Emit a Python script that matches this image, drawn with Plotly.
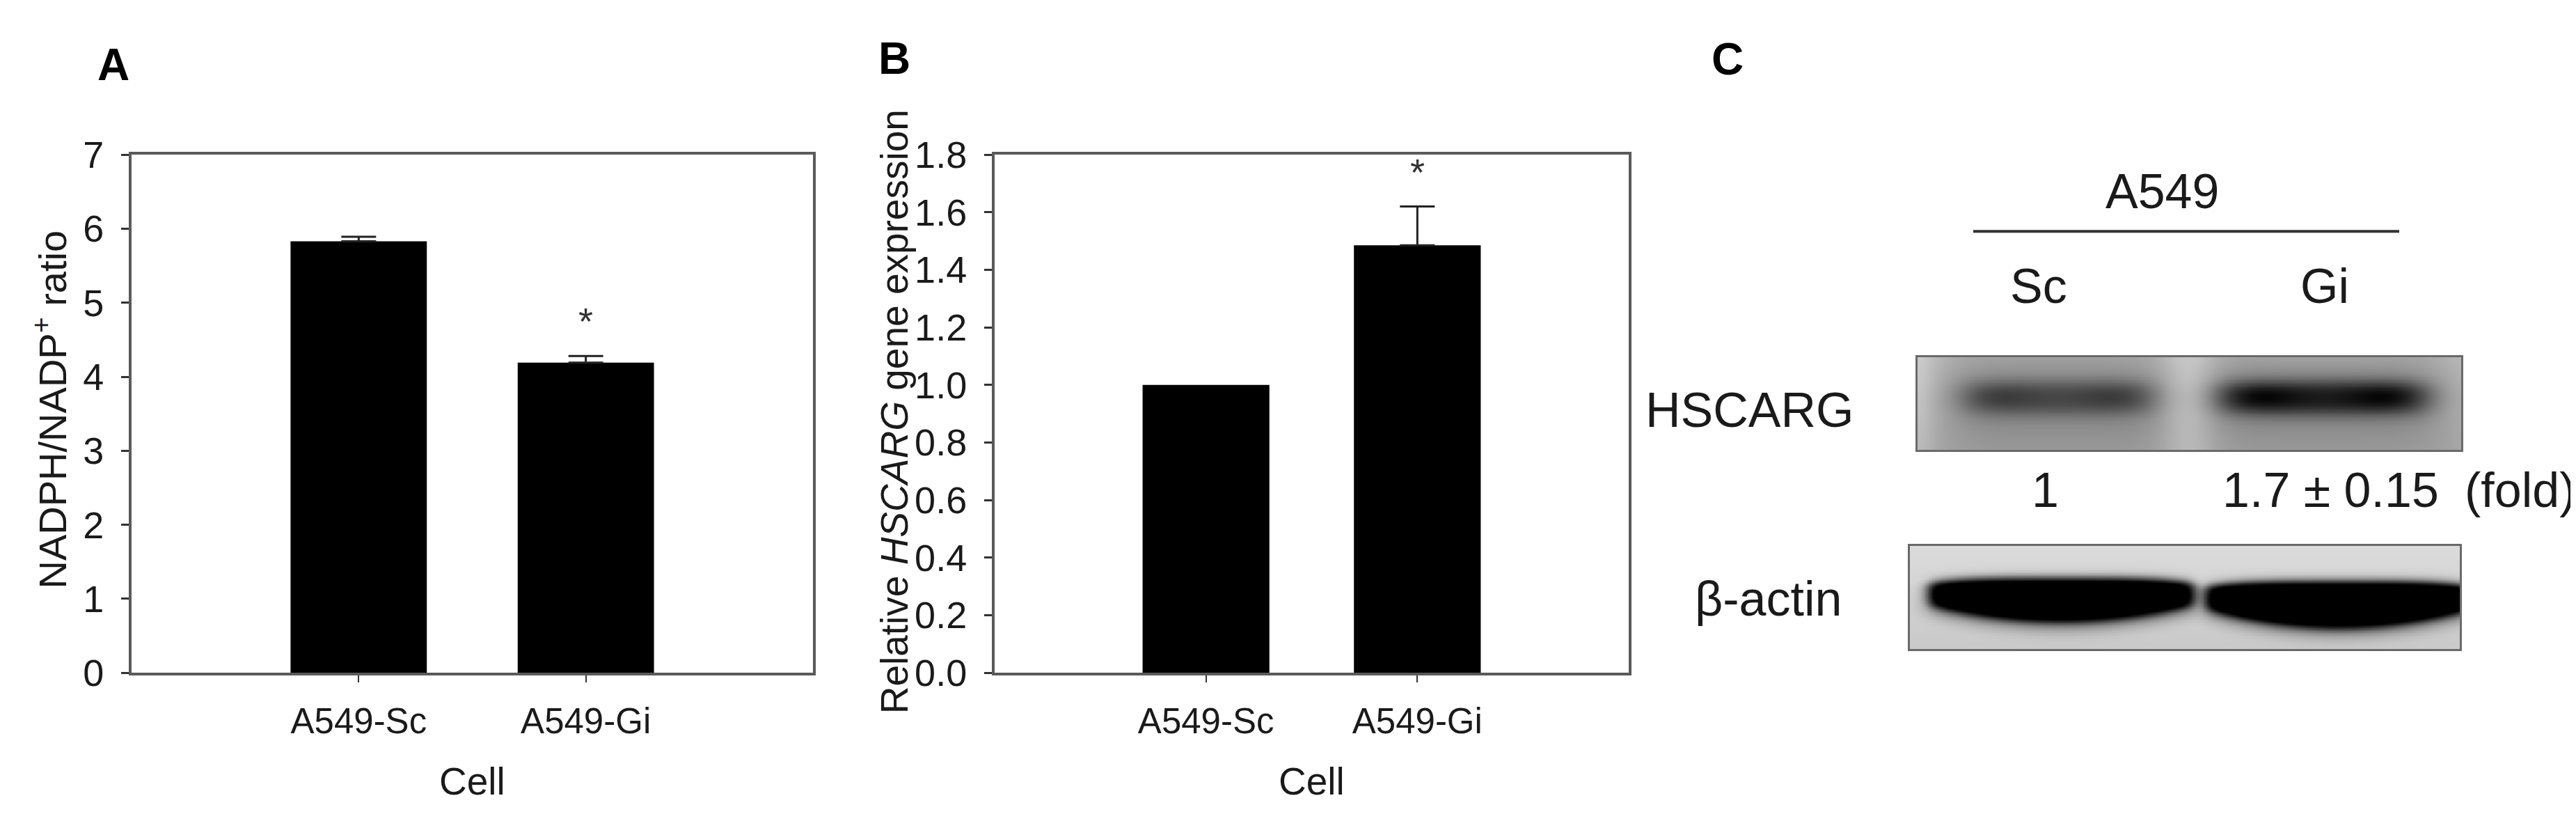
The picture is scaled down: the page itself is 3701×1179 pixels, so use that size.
import numpy as np
import plotly.graph_objects as go

# Figure size (pixels) - used to turn pixel layout into paper fractions
W, H = 3701, 1179
FONT = "Arial, Liberation Sans, sans-serif"
TEXT_COLOR = '#1a1a1a'
AXIS_COLOR = '#5a5a5a'

# Panel A: NADPH/NADP+ ratio
cells = ['A549-Sc', 'A549-Gi']
nadph_ratio = [5.83, 4.19]
nadph_err = [0.06, 0.09]
nadph_sig = ['', '*']

# Panel B: relative HSCARG expression
hscarg_expr = [1.00, 1.485]
hscarg_err = [0.0, 0.135]
hscarg_sig = ['', '*']

# Panel C: western blot (band densities relative to Sc)
lanes = ['Sc', 'Gi']
hscarg_fold = [1.0, 1.7]
hscarg_fold_err = [None, 0.15]
actin_level = [1.0, 1.0]


def fx(px):
    return px / W


def fy(px):
    return 1 - px / H


def sig(t):
    return 1 / (1 + np.exp(-t))


fig = go.Figure()

# Bar panels
for i, (vals, errs, stars) in enumerate([(nadph_ratio, nadph_err, nadph_sig),
                                          (hscarg_expr, hscarg_err, hscarg_sig)]):
    xa = 'x' if i == 0 else 'x2'
    ya = 'y' if i == 0 else 'y2'
    fig.add_trace(go.Bar(
        x=cells, y=vals, width=0.6,
        marker=dict(color='black', line=dict(width=0)),
        xaxis=xa, yaxis=ya, showlegend=False, hoverinfo='skip'
    ))
    # upward-only error bars (only where there is an error)
    ex = [c for c, e in zip(cells, errs) if e > 0]
    ey = [v for v, e in zip(vals, errs) if e > 0]
    ee = [e for e in errs if e > 0]
    fig.add_trace(go.Scatter(
        x=ex, y=ey, mode='markers', marker=dict(size=1, color='rgba(0,0,0,0)'),
        error_y=dict(type='data', array=ee, arrayminus=[0] * len(ee), symmetric=False,
                     color='#222222', thickness=3, width=25),
        xaxis=xa, yaxis=ya, showlegend=False, hoverinfo='skip'
    ))
    for c, v, e, s in zip(cells, vals, errs, stars):
        if s:
            fig.add_annotation(x=c, y=v + e, xref=xa, yref=ya, text=s, showarrow=False,
                               yanchor='bottom', yshift=18,
                               font=dict(size=54, color='#333333', family=FONT))

# Blot images: band darkness built from lane densities
bx = np.linspace(0, 1, 320)
by = np.linspace(0, 1, 110)
X, Y = np.meshgrid(bx, by)

# HSCARG blot
hscarg_lane = [(0.258, 0.175), (0.745, 0.192)]
z_h = 0.27 + 0.07 * Y - 0.08 * np.exp(-((X - 0.5) / 0.05) ** 2) \
    - 0.07 * np.exp(-(X / 0.03) ** 2)
for (cx, hw), d in zip(hscarg_lane, hscarg_fold):
    rel = d / max(hscarg_fold)
    across = np.exp(-((X - cx) / hw) ** 6)
    haze = np.exp(-((X - cx) / (hw * 1.2)) ** 6) * np.exp(-((Y - 0.42) / 0.6) ** 2)
    core = across * sig((Y - 0.27) / 0.05) * sig((0.60 - Y) / 0.05)
    blobs = (np.exp(-((X - (cx - 0.65 * hw)) / 0.08) ** 2)
             + np.exp(-((X - (cx + 0.65 * hw)) / 0.08) ** 2)) \
        * np.exp(-((Y - 0.42) / 0.13) ** 2)
    z_h = z_h + 0.16 * haze + 0.45 * rel * core + 0.12 * rel * blobs
z_h = np.clip(z_h, 0, 1)

# beta-actin blot: thick bands with a flat top and a curved ("smile") bottom
actin_lane = [(0.275, 0.242, 0.31, 0.74, 0.16), (0.78, 0.243, 0.34, 0.80, 0.18)]
z_a = 0.14 + 0.07 * Y
for (cx, hw, top, bottom, curve), d in zip(actin_lane, actin_level):
    u = (X - cx) / hw
    yt = top + 0.05 * u ** 4
    yb = bottom - curve * u ** 2
    inside = sig((Y - yt) / 0.025) * sig((yb - Y) / 0.03) * sig((1 - np.abs(u)) / 0.03)
    halo = np.exp(-((Y - yb - 0.05) / 0.09) ** 2) * sig((1.05 - np.abs(u)) / 0.05)
    z_a = z_a + 1.05 * d * inside + 0.1 * halo
z_a = np.clip(z_a, 0, 1)

grey = [[0, '#ffffff'], [1, '#000000']]
for z, xa, ya in [(z_h, 'x3', 'y3'), (z_a, 'x4', 'y4')]:
    fig.add_trace(go.Heatmap(
        x=bx, y=by, z=z, zmin=0, zmax=1, colorscale=grey, showscale=False,
        zsmooth='best', xaxis=xa, yaxis=ya, hoverinfo='skip'
    ))

# Axes
bar_yaxis = dict(
    showline=True, mirror=True, linecolor=AXIS_COLOR, linewidth=4,
    ticks='outside', ticklen=11, tickwidth=3, tickcolor='#333333',
    showgrid=False, zeroline=False, ticklabelstandoff=14,
    tickfont=dict(size=54, color=TEXT_COLOR, family=FONT)
)
bar_xaxis = dict(
    showline=True, mirror=True, linecolor=AXIS_COLOR, linewidth=4,
    ticks='outside', ticklen=10, tickwidth=2, tickcolor='#333333',
    showgrid=False, zeroline=False, range=[-1, 2], ticklabelstandoff=12,
    tickfont=dict(size=51, color=TEXT_COLOR, family=FONT)
)
blot_axis = dict(
    showline=True, mirror=True, linecolor='#6a6a6a', linewidth=3,
    showticklabels=False, ticks='', showgrid=False, zeroline=False, range=[0, 1]
)

fig.update_layout(
    width=W, height=H,
    margin=dict(l=0, r=0, t=0, b=0),
    plot_bgcolor='white', paper_bgcolor='white',
    xaxis=dict(bar_xaxis, domain=[fx(181), fx(1160)], anchor='y'),
    yaxis=dict(bar_yaxis, domain=[fy(978), fy(194)], anchor='x', range=[0, 7], dtick=1),
    xaxis2=dict(bar_xaxis, domain=[fx(1421), fx(2332)], anchor='y2'),
    yaxis2=dict(bar_yaxis, domain=[fy(978), fy(194)], anchor='x2', range=[0, 1.8],
                dtick=0.2, tickformat='.1f'),
    xaxis3=dict(blot_axis, domain=[fx(2747), fx(3528)], anchor='y3'),
    yaxis3=dict(blot_axis, domain=[fy(641), fy(500)], anchor='x3', autorange=False,
                range=[1, 0]),
    xaxis4=dict(blot_axis, domain=[fx(2736), fx(3526)], anchor='y4'),
    yaxis4=dict(blot_axis, domain=[fy(942), fy(786)], anchor='x4', autorange=False,
                range=[1, 0]),
)


def label(text, x, y, size=54, bold=False, xanchor='center', angle=0, color=TEXT_COLOR):
    fig.add_annotation(
        x=fx(x), y=fy(y), xref='paper', yref='paper', text=f"<b>{text}</b>" if bold else text,
        showarrow=False, xanchor=xanchor, yanchor='middle', textangle=angle,
        font=dict(size=size, color=color, family=FONT)
    )


# Panel letters
label('A', 155, 58, size=64, bold=True, color='black')
label('B', 1277, 48, size=64, bold=True, color='black')
label('C', 2474, 50, size=64, bold=True, color='black')

# Axis titles
label('NADPH/NADP<sup>+</sup> ratio', 64, 580, size=56, angle=-90)
label('Relative <i>HSCARG</i> gene expression', 1277, 583, size=55, angle=-90)
label('Cell', (181 + 1160) / 2, 1142, size=55)
label('Cell', (1421 + 2332) / 2, 1142, size=55)

# Panel C texts
label('A549', 3098, 250, size=70)
fig.add_shape(type='line', xref='paper', yref='paper',
              x0=fx(2827), x1=fx(3439), y0=fy(310), y1=fy(310),
              line=dict(color='#333333', width=4))
for lane, lx in zip(lanes, [2921, 3332]):
    label(lane, lx, 393, size=70)
label('HSCARG', 2657, 581, size=70, xanchor='right')
label('β-actin', 2640, 866, size=70, xanchor='right')

for m, e, lx in zip(hscarg_fold, hscarg_fold_err, [2930, 3340]):
    txt = f"{m:g}" if e is None else f"{m:g} ± {e:g}"
    label(txt, lx, 702, size=70)
label('(fold)', 3612, 702, size=70)

fig.write_html("out.html")
